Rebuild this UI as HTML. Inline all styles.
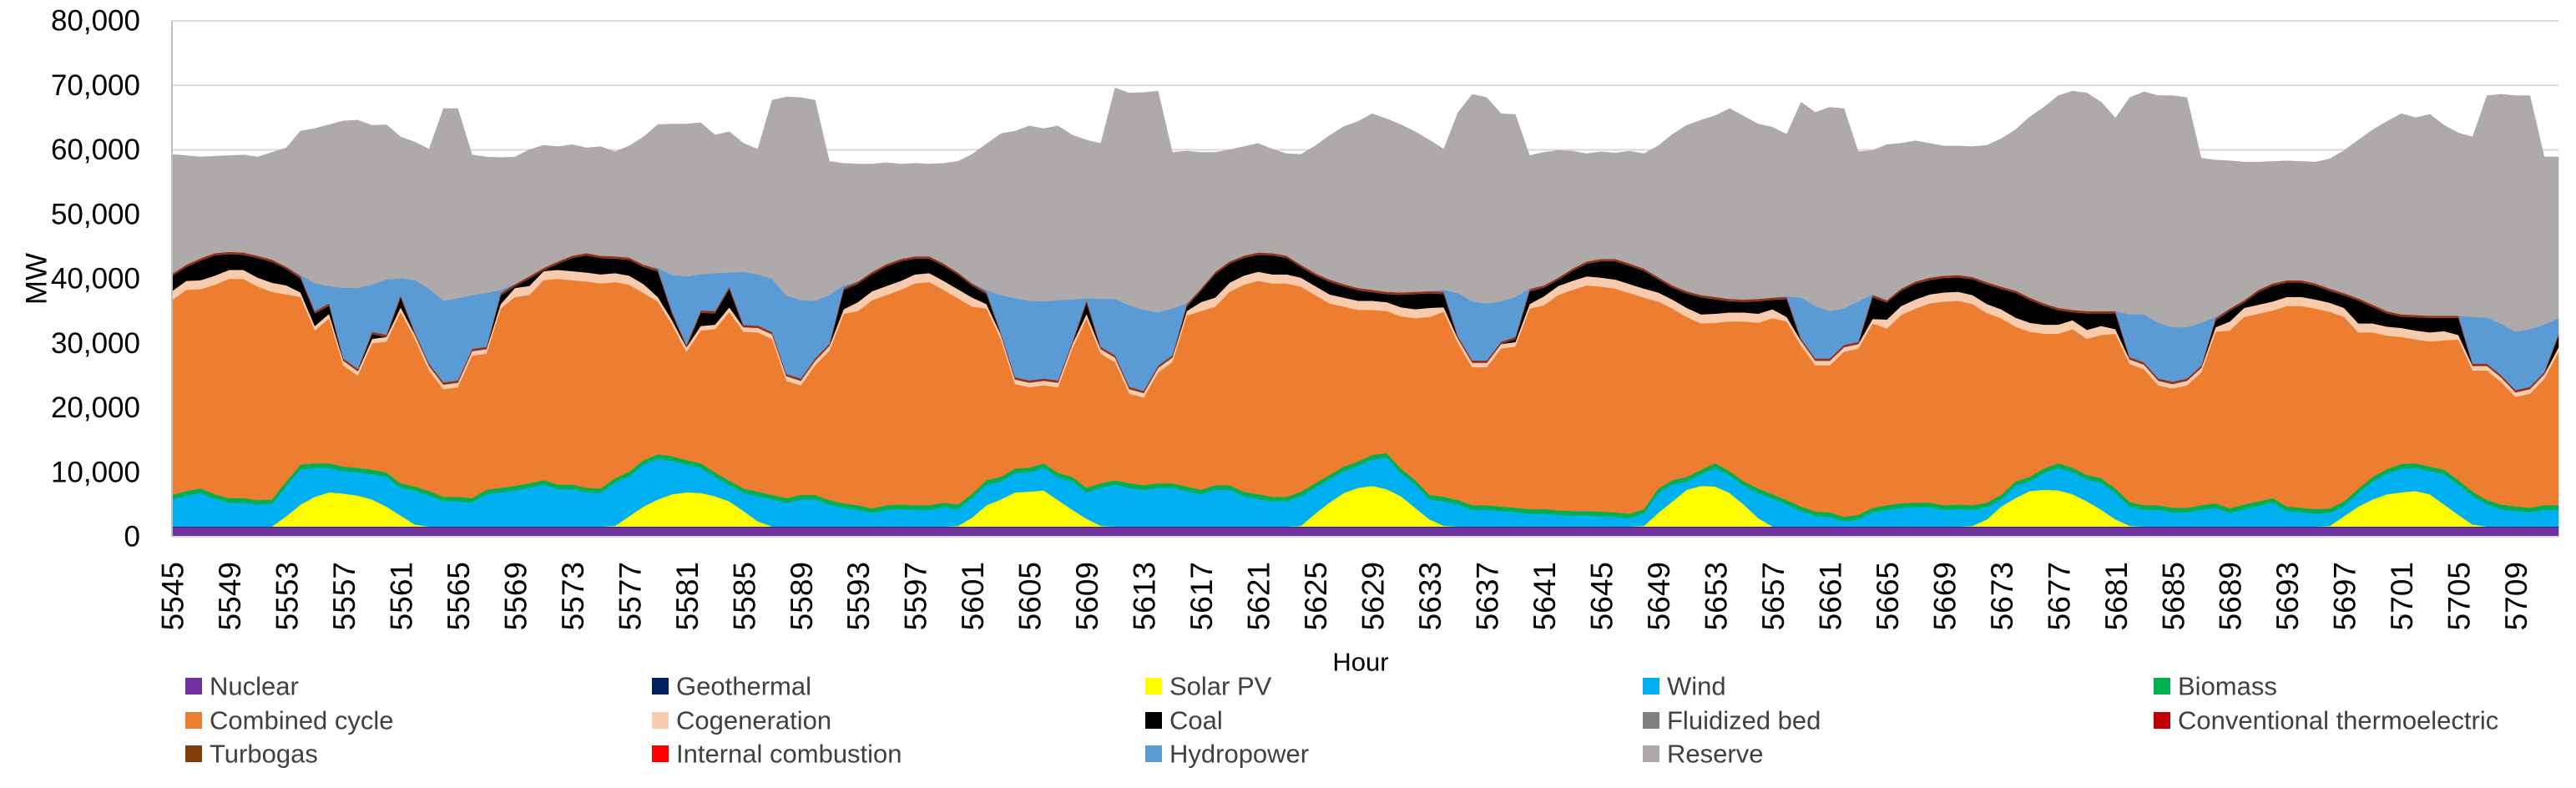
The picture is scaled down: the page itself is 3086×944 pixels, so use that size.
<!DOCTYPE html>
<html><head><meta charset="utf-8"><style>
html,body{margin:0;padding:0;background:#fff;}
svg{display:block;font-family:"Liberation Sans",sans-serif;}
</style></head><body>
<svg id="chart" width="3086" height="944" viewBox="0 0 3086 944" xmlns="http://www.w3.org/2000/svg">
<g id="grid"></g>
<g id="areas"></g>
<g id="yaxis"></g>
<g id="xaxis"></g>
<text transform="translate(44,334) rotate(-90)" text-anchor="middle" dominant-baseline="central" font-size="35" fill="#000">MW</text>
<text x="1630" y="793" text-anchor="middle" dominant-baseline="central" font-size="31" fill="#000">Hour</text>
<g id="legend"></g>
</svg>
<script>
// values in thousands of MW, hours 5545..5712
const firstHour = 5545;
const hourCount = 168;
const nuclear = [1.5,1.5,1.5,1.5,1.5,1.5,1.5,1.5,1.5,1.5,1.5,1.5,1.5,1.5,1.5,1.5,1.5,1.5,1.5,1.5,1.5,1.5,1.5,1.5,1.5,1.5,1.5,1.5,1.5,1.5,1.5,1.5,1.5,1.5,1.5,1.5,1.5,1.5,1.5,1.5];
const geothermal = [0.1,0.1,0.1,0.1,0.1,0.1,0.1,0.1,0.1,0.1,0.1,0.1,0.1,0.1,0.1,0.1,0.1,0.1,0.1,0.1,0.1,0.1,0.1,0.1,0.1,0.1,0.1,0.1,0.1,0.1,0.1,0.1,0.1,0.1,0.1,0.1,0.1,0.1,0.1,0.1];
// cumulative readings: top of solar band
const solarTop = [
1.6,1.6,1.6,1.6,1.6,1.6,1.6,1.6,
3.2,5.0,6.2,6.9,6.7,6.4,5.8,4.7,3.3,1.9,
1.6,1.6,1.6,1.6,1.6, 1.6,1.6,1.6,1.6,1.6, 1.6,1.6,1.6,
1.7,3.2,4.7,5.8,6.6,6.9,6.8,6.3,5.5,4.0,2.4,
1.6,1.6,1.6,1.6,1.6, 1.6,1.6,1.6,1.6,1.6, 1.6,1.6,1.6,
1.7,3.0,4.9,5.8,6.9,7.0,7.2,5.7,4.2,2.8,1.7,
1.6,1.6,1.6,1.6,1.6, 1.6,1.6,1.6,1.6,1.6, 1.6,1.6,1.6,
1.7,3.6,5.3,6.8,7.6,7.9,7.4,6.3,4.5,2.7,1.7,
1.6,1.6,1.6,1.6,1.6, 1.6,1.6,1.6,1.6,1.6, 1.6,1.6,1.6,
1.7,3.7,5.5,7.3,7.9,7.8,6.8,5.0,2.9,
1.6,1.6,1.6,1.6,1.6, 1.6,1.6,1.6,1.6,1.6, 1.6,1.6,1.6,1.6,
1.7,2.7,4.7,6.0,7.1,7.3,7.2,6.6,5.5,4.2,2.7,1.7,
1.6,1.6,1.6,1.6,1.6, 1.6,1.6,1.6,1.6,1.6, 1.6,1.6,1.6,
1.7,3.2,4.7,5.8,6.6,6.9,7.1,6.6,5.0,3.4,1.9,
1.6,1.6,1.6,1.6,1.6,1.6];
const windTop = [5.8,6.4,6.8,5.9,5.3,5.3,5.0,5.1,7.9,10.5,10.7,10.7,10.2,10.0,9.7,9.3,7.6,7.1,6.4,5.5,5.5,5.3,6.6,6.9,7.2,7.6,8.1,7.4,7.4,6.9,6.8,8.4,9.4,11.2,12.1,11.8,11.2,10.7,9.3,8.0,6.8,6.3,5.8,5.3,5.8,5.8,5.0,4.5,4.2,3.7,4.2,4.3,4.2,4.2,4.6,4.3,6.0,8.1,8.6,9.9,10.0,10.7,9.2,8.6,6.9,7.6,8.1,7.6,7.3,7.6,7.6,7.1,6.6,7.3,7.3,6.3,5.9,5.5,5.5,6.3,7.6,8.9,10.2,11.0,12.0,12.3,9.9,8.1,5.8,5.5,5.0,4.2,4.2,4.0,3.8,3.6,3.6,3.4,3.3,3.3,3.2,3.1,2.9,3.6,6.8,8.1,8.6,9.7,10.7,9.5,7.9,6.8,5.9,5.0,4.0,3.2,3.1,2.4,2.7,3.8,4.2,4.5,4.6,4.6,4.2,4.3,4.2,4.6,5.8,7.9,8.6,9.9,10.7,10.0,8.9,8.4,6.8,4.7,4.2,4.2,3.8,3.8,4.2,4.5,3.7,4.3,4.8,5.3,4.0,3.8,3.6,3.7,4.8,6.8,8.6,9.8,10.6,10.7,10.2,9.7,8.1,6.3,5.0,4.3,4.0,3.8,4.2,4.2];
const biomass = [0.7,0.7,0.7,0.7,0.7,0.7,0.7,0.7,0.7,0.7,0.7,0.7,0.7,0.7,0.7,0.7,0.7,0.7,0.7,0.7,0.7,0.7,0.7,0.7,0.7,0.7,0.7,0.7,0.7,0.7,0.7,0.7,0.7,0.7,0.7,0.7,0.7,0.7,0.7,0.7];
const combinedCycleTop = [36.7,38.3,38.4,39.1,40.0,40.0,38.8,38.0,37.6,37.2,32.0,33.9,26.6,25.0,30.0,30.3,34.9,30.7,25.8,22.9,23.2,28.1,28.4,35.4,37.2,37.5,39.8,40.0,39.8,39.6,39.3,39.5,39.1,37.8,36.5,32.9,28.7,32.0,32.2,34.9,31.8,31.7,30.7,24.2,23.5,26.6,28.9,34.6,35.0,36.7,37.5,38.3,39.3,39.5,38.3,37.0,35.7,35.4,30.7,23.7,23.2,23.5,23.2,29.2,33.9,28.4,27.1,22.2,21.6,25.5,27.1,34.3,35.0,35.7,38.0,39.1,39.7,39.3,39.3,38.8,37.5,36.2,35.7,35.2,35.2,35.0,34.2,33.9,34.1,34.9,30.0,26.3,26.3,29.2,29.5,35.4,35.9,37.5,38.3,39.0,38.8,38.5,37.8,37.1,36.5,35.4,34.1,33.1,33.2,33.4,33.4,33.2,33.9,33.4,29.7,26.6,26.6,28.7,29.2,33.1,32.3,34.4,35.4,36.2,36.5,36.6,36.1,34.7,33.9,32.6,31.8,31.5,31.5,32.2,30.7,31.3,31.5,26.8,26.0,23.5,23.0,23.5,25.5,31.8,32.0,34.1,34.6,35.1,35.8,35.8,35.4,34.9,34.1,31.7,31.7,31.2,31.0,30.6,30.3,30.5,30.6,25.8,25.8,24.0,21.7,22.2,24.5,28.7];
const cogeneration = [1.4,1.4,1.4,1.4,1.4,1.4,1.4,1.4,1.4,0.7,0.7,0.7,0.7,0.7,0.7,0.7,0.7,0.7,0.7,0.7,0.7,0.7,0.7,0.7,1.4,1.4,1.4,1.4,1.4,1.4,1.4,1.4,1.4,1.4,0.7,0.7,0.7,0.7,0.7,0.7,0.7,0.7,0.7,0.7,0.7,0.7,0.7,0.7,1.4,1.4,1.4,1.4,1.4,1.4,1.4,1.4,1.4,0.7,0.7,0.7,0.7,0.7,0.7,0.7,0.7,0.7,0.7,0.7,0.7,0.7,0.7,0.7,1.4,1.4,1.4,1.4,1.4,1.4,1.4,1.4,1.4,1.4,1.4,1.4,1.4,1.4,1.4,1.4,1.4,0.7,0.7,0.7,0.7,0.7,0.7,0.7,1.4,1.4,1.4,1.4,1.4,1.4,1.4,1.4,1.4,1.4,1.4,1.4,1.4,1.4,1.4,1.4,1.4,0.7,0.7,0.7,0.7,0.7,0.7,0.7,1.4,1.4,1.4,1.4,1.4,1.4,1.4,1.4,1.4,1.4,1.4,1.4,1.4,1.4,1.4,1.4,0.7,0.7,0.7,0.7,0.7,0.7,0.7,0.7,1.4,1.4,1.4,1.4,1.4,1.4,1.4,1.4,1.4,1.4,1.4,1.4,1.4,1.4,1.4,1.4,0.7,0.7,0.7,0.7,0.7,0.7,0.7,0.7];
const fluidizedBed = [0.05,0.05,0.05,0.05,0.05,0.05,0.05,0.05,0.05,0.05,0.05,0.05,0.05,0.05,0.05,0.05,0.05,0.05,0.05,0.05];
const conventionalThermo = [0.05,0.05,0.05,0.05,0.05,0.05,0.05,0.05,0.05,0.05,0.05,0.05,0.05,0.05,0.05,0.05,0.05,0.05,0.05,0.05];
const turbogas = [0.2,0.2,0.2,0.2,0.2,0.2,0.2,0.2,0.2,0.2,0.2,0.2,0.2,0.2,0.2,0.2,0.2,0.2,0.2,0.2];
const internalCombustion = [0.05,0.05,0.05,0.05,0.05,0.05,0.05,0.05,0.05,0.05,0.05,0.05,0.05,0.05,0.05,0.05,0.05,0.05,0.05,0.05];
// cumulative: top of thermal group (coal ... internal combustion)
const thermalTop = [40.8,42.2,43.2,44.0,44.2,44.1,43.6,43.0,41.9,40.4,35.0,36.2,27.3,25.6,31.8,31.3,37.5,31.3,26.3,23.5,23.8,28.6,29.0,37.8,39.2,40.4,41.7,42.7,43.6,44.0,43.6,43.5,43.3,42.2,41.5,34.9,28.8,35.1,35.0,38.8,32.8,32.6,31.5,25.0,24.3,27.4,29.8,38.6,39.6,41.1,42.3,43.1,43.5,43.5,42.4,41.0,39.3,38.0,31.4,24.4,23.8,24.1,23.8,29.8,36.7,29.2,27.8,22.8,22.2,26.2,27.8,36.0,38.5,41.1,42.7,43.6,44.1,44.0,43.6,42.2,40.9,39.9,39.2,38.6,38.3,38.0,37.9,38.0,38.1,38.0,30.6,26.7,26.7,30.0,31.0,38.4,39.0,40.2,41.6,42.7,43.1,43.1,42.4,41.6,40.3,39.0,38.1,37.5,37.2,36.9,36.8,36.9,37.1,37.2,30.5,27.2,27.4,29.5,30.2,37.5,36.7,38.5,39.6,40.2,40.5,40.6,40.3,39.5,38.8,38.2,37.1,36.2,35.5,35.2,35.0,35.0,35.0,27.5,26.6,24.2,23.6,24.2,26.2,33.9,35.4,36.7,38.3,39.3,39.8,39.8,39.3,38.5,37.8,37.0,36.0,35.0,34.5,34.4,34.3,34.3,34.3,26.6,26.6,24.8,22.4,22.9,25.3,31.5];
const hydroTop = [40.8,42.2,43.2,44.0,44.2,44.1,43.6,43.0,41.9,40.6,39.3,38.9,38.6,38.6,39.1,39.9,40.1,39.8,38.5,36.6,37.0,37.5,37.8,38.3,39.2,40.4,41.7,42.7,43.6,44.0,43.6,43.5,43.3,42.2,41.7,40.6,40.4,40.7,40.9,41.0,41.1,40.7,40.0,37.4,36.7,36.6,37.5,39.0,39.6,41.1,42.3,43.1,43.5,43.5,42.4,41.0,39.3,38.3,37.5,37.0,36.6,36.5,36.7,36.8,37.0,36.9,36.9,35.9,35.2,34.8,35.4,36.2,38.5,41.1,42.7,43.6,44.1,44.0,43.6,42.2,40.9,39.9,39.2,38.6,38.3,38.0,37.9,38.0,38.1,38.3,37.8,36.5,36.2,36.5,37.2,38.5,39.0,40.2,41.6,42.7,43.1,43.1,42.4,41.6,40.3,39.0,38.1,37.5,37.2,36.9,36.8,36.9,37.1,37.3,37.1,35.8,35.0,35.4,36.5,37.6,36.7,38.5,39.6,40.2,40.5,40.6,40.3,39.5,38.8,38.2,37.1,36.2,35.5,35.2,35.0,35.0,35.0,34.5,34.5,33.2,32.5,32.5,33.2,34.1,35.4,36.7,38.3,39.3,39.8,39.8,39.3,38.5,37.8,37.0,36.0,35.0,34.5,34.4,34.3,34.3,34.3,34.1,34.0,33.0,31.8,32.2,32.9,33.9];
const totalCapacity = [59.3,59.1,58.9,59.0,59.1,59.2,58.9,59.6,60.3,62.9,63.3,63.9,64.5,64.6,63.8,63.9,62.0,61.2,60.1,66.4,66.4,59.2,58.9,58.8,58.9,60.0,60.7,60.5,60.8,60.3,60.5,59.7,60.6,62.0,63.9,64.0,64.0,64.2,62.3,62.8,61.0,60.1,67.7,68.2,68.1,67.7,58.2,57.9,57.8,57.8,58.0,57.8,57.9,57.8,57.9,58.2,59.3,60.9,62.5,62.9,63.7,63.3,63.7,62.3,61.5,61.0,69.6,68.8,68.9,69.1,59.6,59.8,59.6,59.6,60.0,60.5,61.0,60.1,59.4,59.3,60.6,62.2,63.6,64.4,65.6,64.8,63.9,62.8,61.5,60.1,65.8,68.6,68.1,65.6,65.5,59.1,59.6,59.9,59.8,59.4,59.7,59.5,59.8,59.4,60.6,62.4,63.8,64.6,65.3,66.4,65.2,64.0,63.5,62.4,67.4,65.8,66.6,66.4,59.7,59.9,60.8,61.0,61.4,61.0,60.6,60.6,60.5,60.7,61.7,63.1,65.1,66.6,68.4,69.1,68.8,67.4,64.9,68.1,69.0,68.4,68.4,68.1,58.7,58.4,58.3,58.1,58.1,58.2,58.3,58.2,58.1,58.6,59.9,61.5,63.1,64.4,65.6,65.0,65.5,63.8,62.6,62.0,68.4,68.6,68.4,68.4,58.9,58.9];
const yTicks = [0,10000,20000,30000,40000,50000,60000,70000,80000];
const yTickLabels = ["0","10,000","20,000","30,000","40,000","50,000","60,000","70,000","80,000"];
const legendNames = ["Nuclear","Geothermal","Solar PV","Wind","Biomass","Combined cycle","Cogeneration","Coal","Fluidized bed","Conventional thermoelectric","Turbogas","Internal combustion","Hydropower","Reserve"];
const legendColors = ["#7030a0","#002060","#ffff00","#00b0f0","#00b050","#ed7d31","#f8cbad","#000000","#808080","#c00000","#843c0c","#ff0000","#5b9bd5","#aeaaaa"];

const NS = "http://www.w3.org/2000/svg";
const X0 = 206, X1 = 3065, Y0 = 643, YTOP = 25, YMAX = 80000;
const N = hourCount;
function xScale(i){ return X0 + (X1 - X0) * i / (N - 1); }
function yScale(v){ return Y0 - (Y0 - YTOP) * v / YMAX; }
function mk(tag, attrs, parent){ const e = document.createElementNS(NS, tag); for (const k in attrs) e.setAttribute(k, attrs[k]); parent.appendChild(e); return e; }
// safe read: falls back to nearest earlier finite value (constant thin series are shorter lists)
function val(arr, i){
  for (let j = Math.min(i, arr.length - 1); j >= 0; j--) { const v = Number(arr[j]); if (Number.isFinite(v)) return v; }
  return 0;
}
function pos(v){ return v > 0 ? v : 0; }

const S = {nuclear:[],geothermal:[],solar:[],wind:[],biomass:[],cc:[],cogen:[],coal:[],fb:[],conv:[],tg:[],ic:[],hydro:[],reserve:[]};
for (let i = 0; i < N; i++) {
  const nu = val(nuclear, i), ge = val(geothermal, i);
  const base = nu + ge;
  const sol = pos(val(solarTop, i) - base);
  const wnd = pos(val(windTop, i) - base - sol);
  const bio = val(biomass, i);
  const belowCC = base + sol + wnd + bio;
  const cc = pos(val(combinedCycleTop, i) - belowCC);
  const cg = val(cogeneration, i);
  const fb = val(fluidizedBed, i), cv = val(conventionalThermo, i), tg = val(turbogas, i), ic = val(internalCombustion, i);
  const thin = fb + cv + tg + ic;
  const coal = pos(val(thermalTop, i) - belowCC - cc - cg - thin);
  const th = belowCC + cc + cg + coal + thin;
  const hyd = pos(val(hydroTop, i) - th);
  const res = pos(val(totalCapacity, i) - th - hyd);
  S.nuclear.push(nu*1000); S.geothermal.push(ge*1000); S.solar.push(sol*1000); S.wind.push(wnd*1000);
  S.biomass.push(bio*1000); S.cc.push(cc*1000); S.cogen.push(cg*1000); S.coal.push(coal*1000);
  S.fb.push(fb*1000); S.conv.push(cv*1000); S.tg.push(tg*1000); S.ic.push(ic*1000);
  S.hydro.push(hyd*1000); S.reserve.push(res*1000);
}
const order = ["nuclear","geothermal","solar","wind","biomass","cc","cogen","coal","fb","conv","tg","ic","hydro","reserve"];
const seriesNames = ["nuclear-area","geothermal-area","solar-pv-area","wind-area","biomass-area","combined-cycle-area","cogeneration-area","coal-area","fluidized-bed-area","conventional-thermoelectric-area","turbogas-area","internal-combustion-area","hydropower-area","reserve-area"];

const grid = document.getElementById('grid');
yTicks.forEach(t => {
  if (t === 0) return;
  const l = mk('line', {x1:X0, x2:X1, y1:yScale(t), y2:yScale(t), stroke:'#d9d9d9', 'stroke-width':2}, grid);
  
  
});

const areas = document.getElementById('areas');
let cum = new Array(N).fill(0);
order.forEach((k, si) => {
  const top = cum.map((c, i) => c + S[k][i]);
  let d = '';
  for (let i = 0; i < N; i++) d += (i ? 'L' : 'M') + xScale(i).toFixed(2) + ',' + yScale(top[i]).toFixed(2);
  for (let i = N - 1; i >= 0; i--) d += 'L' + xScale(i).toFixed(2) + ',' + yScale(cum[i]).toFixed(2);
  d += 'Z';
  const p = mk('path', {d: d, fill: legendColors[si], stroke: legendColors[si], 'stroke-width': 0.6, 'stroke-linejoin':'round'}, areas);
  
  
  cum = top;
});

const yaxis = document.getElementById('yaxis');
const ax = mk('line', {x1:X0, x2:X0, y1:YTOP, y2:Y0, stroke:'#bfbfbf', 'stroke-width':2}, yaxis);


yTicks.forEach((t, i) => {
  const tx = mk('text', {x:168, y:yScale(t), 'text-anchor':'end', 'dominant-baseline':'central', 'font-size':35, fill:'#000'}, yaxis);
  tx.textContent = yTickLabels[i];
  
  
});
const xaxis = document.getElementById('xaxis');
const bx = mk('line', {x1:X0, x2:X1, y1:Y0, y2:Y0, stroke:'#d9d9d9', 'stroke-width':2}, xaxis);


for (let i = 0; i < N; i += 4) {
  const x = xScale(i);
  const tx = mk('text', {transform:'translate(' + (x + 1) + ',673) rotate(-90)', 'text-anchor':'end', 'dominant-baseline':'central', 'font-size':37, fill:'#000'}, xaxis);
  tx.textContent = String(firstHour + i);
  
  
}

const legend = document.getElementById('legend');
const colX = [222, 781, 1372, 1968, 2580];
const rowY = [822, 863, 903];
legendNames.forEach((nm, i) => {
  const cx = colX[i % 5], cy = rowY[Math.floor(i / 5)];
  const g = mk('g', {}, legend);
  
  
  const r = mk('rect', {x:cx, y:cy - 10, width:20, height:20, fill:legendColors[i]}, g);
  
  
  const t = mk('text', {x:cx + 29, y:cy, 'dominant-baseline':'central', 'font-size':31, fill:'#404040'}, g);
  t.textContent = nm;
  
  
});
</script>
</body></html>
